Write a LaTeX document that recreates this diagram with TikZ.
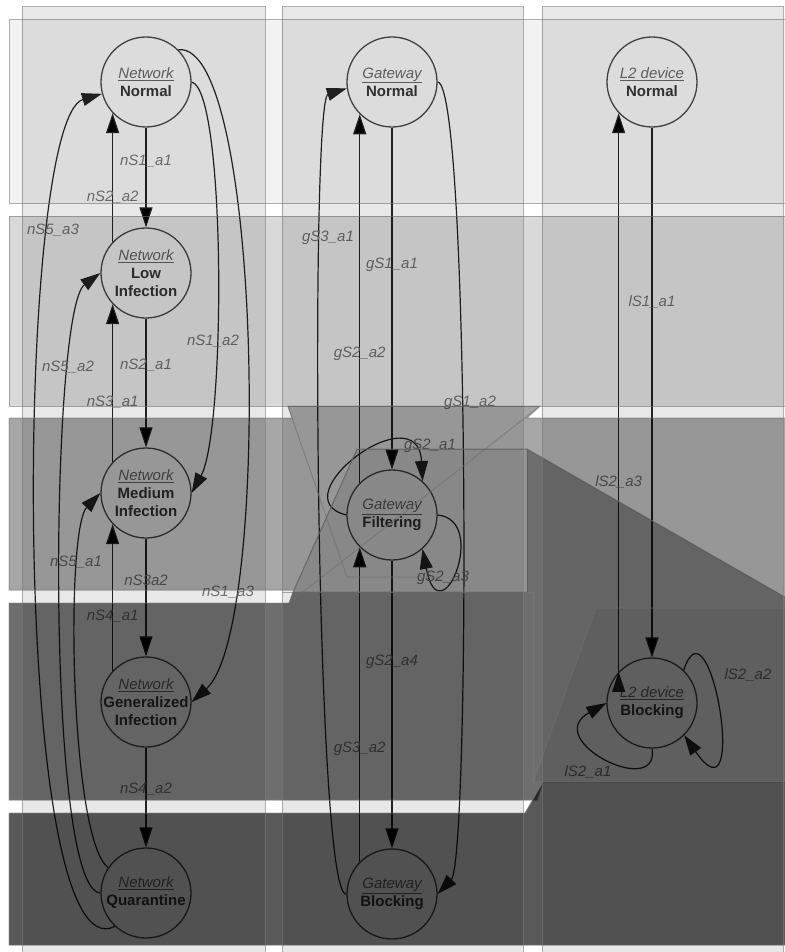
\documentclass[tikz,border=0pt]{standalone}
\usepackage{fontspec}
\setmainfont{Liberation Sans}
\usepackage{tikz}
\usetikzlibrary{arrows.meta,shapes}
\newcommand{\stateowner}[1]{\textcolor{black!58}{\underline{\mdseries\itshape #1}}}

\begin{document}
\begin{tikzpicture}
[x=1pt,y=-1pt]
\tikzset{
	state/.style = {circle, draw=black!70, line width=1.3pt, minimum size=90pt, inner sep=0pt},
	statetext/.style = {align=center, font=\fontsize{15}{18}\selectfont\bfseries, text=black!78},
	lbl/.style = {font=\fontsize{15}{18}\selectfont\itshape, text=black!52, inner sep=1pt},
	arr/.style = {draw=black!85, line width=1.2pt, -{Triangle[length=20pt,width=13pt]}},
	lane/.style = {fill=black, draw=black!52, draw opacity=0.6, line width=1pt},
	guide/.style = {draw=black!52, draw opacity=0.6, line width=1pt}
}
\useasboundingbox (0,0) rectangle (784,952);

% network
\node(n1) [state, label={[statetext]center:{\stateowner{Network}\\Normal}}] at (146,82) {};
\node(n2) [state, label={[statetext]center:{\stateowner{Network}\\Low\\Infection}}] at (146,273) {};
\node(n3) [state, label={[statetext]center:{\stateowner{Network}\\Medium\\Infection}}] at (146,493) {};
\node(n4) [state, label={[statetext]center:{\stateowner{Network}\\Generalized\\Infection}}] at (146,702) {};
\node(n5) [state, label={[statetext]center:{\stateowner{Network}\\Quarantine}}] at (146,893) {};

% gateway
\node(g1) [state, label={[statetext]center:{\stateowner{Gateway}\\Normal}}] at (392,82) {};
\node(g2) [state, label={[statetext]center:{\stateowner{Gateway}\\Filtering}}] at (392,515) {};
\node(g3) [state, label={[statetext]center:{\stateowner{Gateway}\\Blocking}}] at (392,894) {};

% l2 device
\node(l1) [state, label={[statetext]center:{\stateowner{L2 device}\\Normal}}] at (652,82) {};
\node(l2) [state, label={[statetext]center:{\stateowner{L2 device}\\Blocking}}] at (652,703) {};

\path[arr]
	(n1) edge node [lbl, pos=.34] {nS1\_a1} (n2)
	(n2.137) edge node [lbl, pos=.35] {nS2\_a2} (n1.223)
	(n2) edge node [lbl, pos=.36] {nS2\_a1} (n3)
	(n3.137) edge node [lbl, pos=.38] {nS3\_a1} (n2.223)
	(n3) edge node [lbl, pos=.35] {nS3a2} (n4)
	(n4.137) edge node [lbl, pos=.37] {nS4\_a1} (n3.223)
	(n4) edge node [lbl, pos=.42] {nS4\_a2} (n5)
	(g1) edge node [lbl, pos=.40] {gS1\_a1} (g2)
	(g2.135) edge node [lbl, pos=.35] {gS2\_a2} (g1.225)
	(g2) edge node [lbl, pos=.35] {gS2\_a4} (g3)
	(g3.135) edge node [lbl, pos=.36] {gS3\_a2} (g2.225)
	(l1) edge node [lbl, pos=.33] {lS1\_a1} (l2)
	(l2.137) edge node [lbl, pos=.34] {lS2\_a3} (l1.223)
	;

\draw[arr] (n1.east) .. controls (226,90) and (226,430) .. (n3.east);
\draw[arr] (n1.45) .. controls (262,40) and (272,630) .. (n4.east);
\draw[arr] (n5.227) .. controls (10,980) and (14,120) .. (n1.195);
\draw[arr] (n5.west) .. controls (45,890) and (50,310) .. (n2.west);
\draw[arr] (n5.146) .. controls (70,840) and (65,530) .. (n3.west);
\draw[arr] (g3.west) .. controls (315,900) and (310,100) .. (g1.188);
\draw[arr] (g1.east) .. controls (470,85) and (470,860) .. (g3.east);
\draw[arr] (g2.west) .. controls (278,498) and (418,392) .. (g2.48);
\draw[arr] (g2.east) .. controls (490,520) and (440,640) .. (g2.312);
\draw[arr] (l2.46) .. controls (710,590) and (750,830) .. (l2.315);
\draw[arr] (l2.south) .. controls (660,800) and (540,740) .. (l2.west);

\node(nS1a2) [lbl] at (213,341) {nS1\_a2};
\node(nS1a3) [lbl] at (228,592) {nS1\_a3};
\node(nS5a3) [lbl] at (53,230) {nS5\_a3};
\node(nS5a2) [lbl] at (68,367) {nS5\_a2};
\node(nS5a1) [lbl] at (76,562) {nS5\_a1};
\node(gS3a1) [lbl] at (328,238) {gS3\_a1};
\node(gS1a2) [lbl] at (470,403) {gS1\_a2};
\node(gS2a1) [lbl] at (430,446) {gS2\_a1};
\node(gS2a3) [lbl] at (443,578) {gS2\_a3};
\node(lS2a2) [lbl] at (748,675) {lS2\_a2};
\node(lS2a1) [lbl] at (588,772) {lS2\_a1};

% lanes
\path[lane, fill opacity=.05] (9,20) rectangle (790,203);
\path[lane, fill opacity=.15] (9,216) rectangle (790,406);
\path[lane, fill opacity=.35] (9,418) -- (292,418) -- (288,406) -- (540,406) -- (527,418) -- (790,418)
	-- (790,600) -- (527,449) -- (357,449) -- (294,590) -- (9,590) -- cycle;
\path[lane, fill opacity=.41] (357,449) -- (527,449) -- (527,592) -- (293,592) -- cycle;
\path[lane, fill opacity=.57] (9,603) -- (289,603) -- (293,592) -- (527,592) -- (527,449) -- (790,600)
	-- (790,782) -- (543,782) -- (537,800) -- (9,800) -- cycle;
\path[lane, fill opacity=.06] (596,608) -- (790,608) -- (790,782) -- (533,782) -- cycle;
\path[lane, fill opacity=.65] (9,813) -- (525,813) -- (543,782) -- (790,782) -- (790,945) -- (9,945) -- cycle;
\draw[guide] (288,406) -- (347,577) -- (440,577);
\draw[guide] (540,406) -- (289,603);
\draw[guide] (282,592) -- (533,592) -- (533,782);

% columns
\foreach \xa/\xb in {22/265, 282/523, 542/783}
	\path[lane, fill opacity=.09] (\xa,7) rectangle (\xb,960);

\end{tikzpicture}
\end{document}
